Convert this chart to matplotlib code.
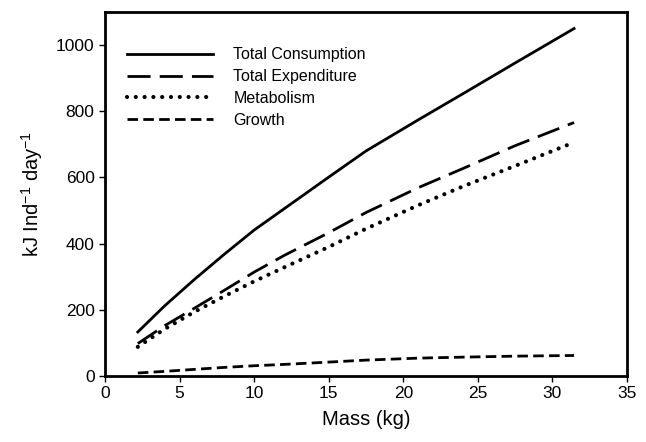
import matplotlib
matplotlib.use('Agg')
import matplotlib.pyplot as plt
import numpy as np

plt.rcParams['font.family'] = ['Liberation Sans', 'DejaVu Sans']
plt.rcParams['mathtext.default'] = 'regular'

# Data
mass        = [2.2, 4, 6, 8, 10, 12, 15, 17.5, 21, 24, 27.5, 31.45]
consumption = [133, 212, 292, 368, 441, 505, 601, 680, 774, 853, 946, 1050]
expenditure = [98, 152, 205, 259, 314, 364, 433, 494, 569, 627, 696, 766]
met_mass    = [2.2, 4, 6, 8, 10, 12, 15, 17.5, 21, 24, 27.5, 31.0]
metabolism  = [88, 142, 194, 241, 286, 328, 390, 445, 516, 573, 635, 698]
growth      = [9, 14, 20, 26, 31, 35, 42, 48, 54, 57, 60, 62]

xticks = [0, 5, 10, 15, 20, 25, 30, 35]
yticks = [0, 200, 400, 600, 800, 1000]

lw = 2.0

fig = plt.figure(figsize=(6.46, 4.42), dpi=100)
ax = fig.add_axes([105/646, 1-376/442, (627-105)/646, (376-12)/442])

ax.plot(mass, consumption, c='k', lw=lw, label='Total Consumption')
ax.plot(mass, expenditure, c='k', lw=lw, dashes=(8.3, 3.3), label='Total Expenditure')
ax.plot(met_mass, metabolism, c='k', lw=3.0, dashes=(0.01, 2.1),
        dash_capstyle='round', label='Metabolism')
ax.plot(mass, growth, c='k', lw=lw, dashes=(3.8, 1.9), label='Growth')

ax.set_xlim(0, 35)
ax.set_ylim(0, 1100)
ax.set_xticks(xticks)
ax.set_yticks(yticks)
ax.tick_params(direction='out', length=4, width=1, labelsize=12.5, top=False, right=False)
for s in ax.spines.values():
    s.set_linewidth(2.0)

ax.set_xlabel('Mass (kg)', fontsize=14.5, labelpad=6)
ax.set_ylabel(r'kJ Ind$^{-1}$ day$^{-1}$', fontsize=14.5, labelpad=8)

ax.legend(loc='upper left', bbox_to_anchor=(0.015, 0.942), frameon=False, fontsize=11.5,
          handlelength=5.4, handletextpad=1.25, labelspacing=0.42, borderpad=0.4,
          borderaxespad=0.5)

fig.savefig('out.png', dpi=100)
